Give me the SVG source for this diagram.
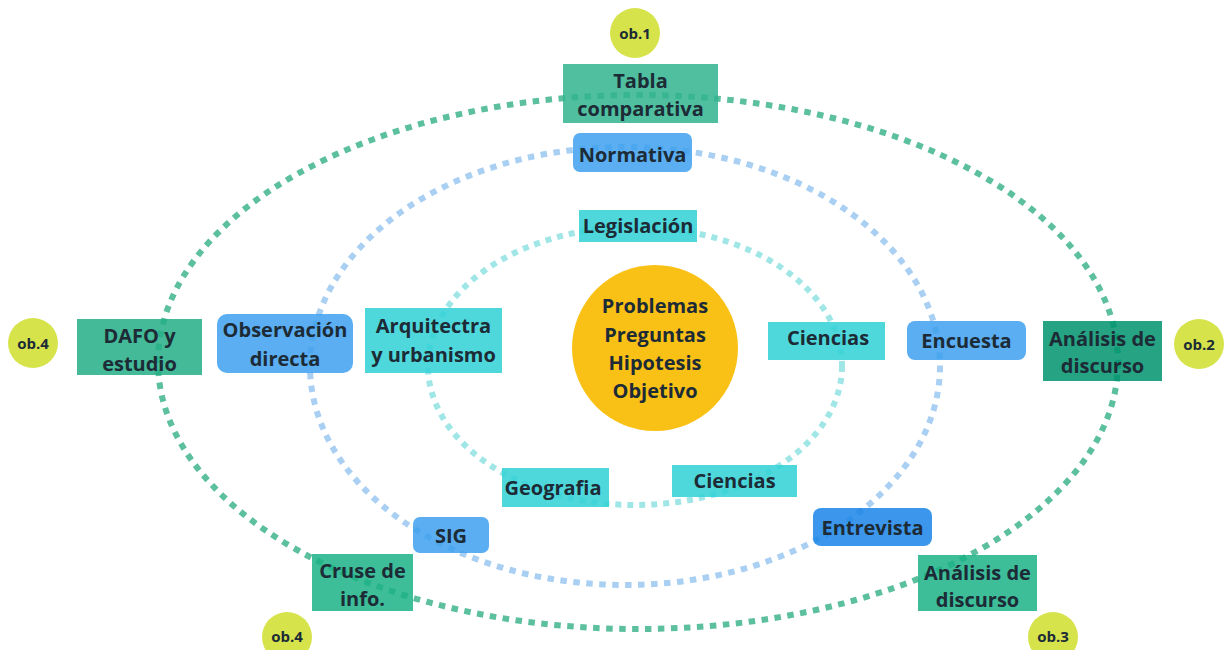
<svg xmlns="http://www.w3.org/2000/svg" width="1225" height="650" viewBox="0 0 1225 650">
<style>
text{font-family:"Open Sans","Noto Sans","DejaVu Sans",sans-serif;font-weight:700;font-size:20px;fill:#1c2b36;text-anchor:middle}
.ob text{font-size:15px}
.ob circle{fill:#d6e34b}
rect{fill-opacity:0.85}
.grn{fill:#30b48e}
.blu{fill:#3da0ee}
.cyn{fill:#30d1d6}
.con{fill:none;stroke-width:6}
.outer{stroke:#5cbf9e;stroke-dasharray:6.5 6.5}
.mid{stroke:#a9cff2;stroke-dasharray:6.5 6.5}
.inner{stroke:#a0e6e6;stroke-dasharray:6 6}
</style>
<rect width="1225" height="650" fill="#ffffff" fill-opacity="1"/>
<g id="connectors">
<ellipse class="con outer" cx="638" cy="362" rx="480" ry="267"/>
<ellipse class="con mid" cx="625" cy="366" rx="315" ry="219"/>
<ellipse class="con inner" cx="635" cy="366" rx="207" ry="139"/>
</g>
<g id="nodes">
<g id="center"><circle cx="655" cy="348" r="83" fill="#f9c116"/><text x="655" y="313">Problemas</text><text x="655" y="342">Preguntas</text><text x="655" y="370">Hipotesis</text><text x="655" y="398">Objetivo</text></g>
<g id="ob1" class="ob"><circle cx="635" cy="33" r="25"/><text x="635" y="39">ob.1</text></g>
<g id="tabla"><rect class="grn" x="563" y="64" width="155" height="59"/><text x="640.5" y="88">Tabla</text><text x="640.5" y="116">comparativa</text></g>
<g id="normativa"><rect class="blu" x="573" y="133" width="119" height="39" rx="7"/><text x="632.5" y="162">Normativa</text></g>
<g id="legislacion"><rect class="cyn" x="579" y="210" width="118" height="32"/><text x="638" y="233">Legislación</text></g>
<g id="arquitectura"><rect class="cyn" x="365" y="308" width="137" height="65"/><text x="433.5" y="333">Arquitectra</text><text x="433.5" y="362">y urbanismo</text></g>
<g id="ciencias1"><rect class="cyn" x="768" y="322" width="117" height="38"/><text x="828" y="345">Ciencias</text></g>
<g id="geografia"><rect class="cyn" x="502" y="468" width="107" height="39"/><text x="553" y="495">Geografia</text></g>
<g id="ciencias2"><rect class="cyn" x="672" y="465" width="125" height="32"/><text x="734.5" y="488">Ciencias</text></g>
<g id="ob4a" class="ob"><circle cx="33" cy="343" r="25"/><text x="33" y="349">ob.4</text></g>
<g id="dafo"><rect fill="#23ae86" x="77" y="319" width="125" height="56"/><text x="139.5" y="343">DAFO y</text><text x="139.5" y="371">estudio</text></g>
<g id="observacion"><rect class="blu" x="217" y="314" width="136" height="59" rx="10"/><text x="285" y="337">Observación</text><text x="285" y="366">directa</text></g>
<g id="encuesta"><rect class="blu" x="907" y="321" width="119" height="39" rx="8"/><text x="966.5" y="348">Encuesta</text></g>
<g id="analisis1"><rect fill="#00936c" x="1043" y="321" width="119" height="60"/><text x="1102.5" y="346">Análisis de</text><text x="1102.5" y="373">discurso</text></g>
<g id="ob2" class="ob"><circle cx="1199" cy="344" r="25"/><text x="1199" y="350">ob.2</text></g>
<g id="sig"><rect class="blu" x="413" y="517" width="76" height="36" rx="7"/><text x="451" y="543">SIG</text></g>
<g id="cruse"><rect fill="#1bb286" x="312" y="554" width="101" height="57"/><text x="362.5" y="578">Cruse de</text><text x="362.5" y="606">info.</text></g>
<g id="ob4b" class="ob"><circle cx="287" cy="637" r="25"/><text x="287" y="642">ob.4</text></g>
<g id="entrevista"><rect fill="#1a85e9" x="813" y="508" width="119" height="38" rx="8"/><text x="872.5" y="535">Entrevista</text></g>
<g id="analisis2"><rect fill="#1bb286" x="918" y="555" width="119" height="56"/><text x="977.5" y="580">Análisis de</text><text x="977.5" y="607">discurso</text></g>
<g id="ob3" class="ob"><circle cx="1053" cy="637" r="25"/><text x="1053" y="642">ob.3</text></g>
</g>
</svg>
